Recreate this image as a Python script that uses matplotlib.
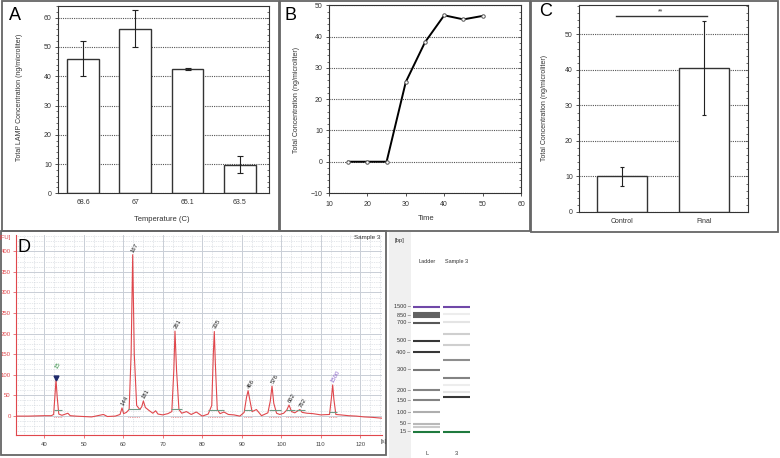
import matplotlib
matplotlib.use('Agg')
import matplotlib.pyplot as plt
from matplotlib.patches import Rectangle
from matplotlib.ticker import MultipleLocator

plt.rcParams['font.family'] = ['Liberation Sans', 'DejaVu Sans']

# --- data ---
# A: LAMP product vs temperature
temps = ['68.6', '67', '65.1', '63.5']
temp_conc = [46.0, 56.3, 42.6, 9.8]
temp_err = [6.0, 6.2, 0.3, 2.8]

# B: time course
time_min = [15, 20, 25, 30, 35, 40, 45, 50]
time_conc = [0, 0, 0, 25.5, 38.2, 46.8, 45.5, 46.6]

# C: control vs final
groups = ['Control', 'Final']
group_conc = [10.1, 40.5]
group_err = [2.7, 13.25]
sig_level = 55.1

# D: electropherogram trace (seconds, FU)
trace_x = [32.8, 36, 40, 41.8, 42.4, 42.7, 43.0, 43.3, 43.7, 44.5, 46.0, 46.6,
           48, 50, 52, 55, 56, 58, 59.2, 59.7, 60.1,
           60.8, 61.5, 62.0, 62.4, 62.8, 63.4, 64.2, 64.7, 65.1, 65.6, 66.5, 67.5, 68.2, 68.8,
           70, 71.3, 72.3, 72.8, 73.1, 73.5, 74.1, 74.8, 76, 77.2, 78.5, 80,
           81.5, 82.4, 82.8, 83.05, 83.3, 83.8, 84.5, 85.5, 86.6, 88, 89.5,
           90.6, 91.2, 91.6, 92.0, 92.6, 93.7, 95.0, 96.6,
           97.2, 97.65, 98.1, 98.8, 99.6, 100.6,
           101.4, 101.95, 102.6, 103.4, 104.2, 104.7, 105.3, 106.5, 108, 110,
           112.2, 112.7, 113.0, 113.3, 113.8, 115, 117, 119, 121, 123, 125.4]
trace_y = [-1, -1, 0, 0, 3, 45, 88, 45, 4, 1, 6, 0,
           -1, -2, -3, 3, -2, -1, 3, 19, 5,
           8, 15, 150, 392, 150, 25, 15, 22, 36, 20, 13, 6, 12, 4,
           2, 5, 10, 110, 206, 110, 15, 6, 10, 3, 9, -1,
           4, 25, 150, 205, 130, 15, 5, 9, 3, 2, -1,
           8, 45, 61, 40, 10, 15, 0, 7,
           35, 72, 30, 6, 3, 6,
           14, 26, 10, 7, 12, 15, 8, 6, 5, 2,
           3, 45, 75, 40, 3, 2, 0, -1, -3, -4, -6]

peak_x = [43.0, 59.7, 62.4, 65.1, 73.1, 83.05, 91.6, 97.65, 101.95, 104.7, 113.0]
peak_y = [88, 19, 392, 36, 206, 205, 61, 72, 26, 15, 75]
peak_bp = ['15', '144', '167', '181', '261', '335', '466', '576', '662', '762', '1500']

# integration baselines (start, end, level)
base_start = [42.4, 61.2, 72.0, 81.5, 90.5, 96.9, 101.3, 103.6, 112.1]
base_end = [44.5, 64.3, 75.0, 85.5, 92.6, 99.9, 103.4, 106.1, 114.1]
base_level = [14, 17, 17, 15, 15, 15, 14, 13, 10]

# gel image: migration (0 top .. 100 bottom) and band darkness
ladder_mig = [33.1, 36.1, 36.8, 37.6, 40.3, 48.2, 53.2, 61.0, 70.1, 74.5, 79.7, 84.8, 86.3, 88.4]
ladder_dark = [0, 0.7, 0.7, 0.7, 0.75, 0.9, 0.9, 0.6, 0.55, 0.55, 0.35, 0.3, 0.22, 0]
sample_mig = [33.1, 36.5, 39.8, 45.2, 50.1, 56.8, 64.6, 67.7, 70.7, 73.0, 88.4]
sample_dark = [0, 0.06, 0.1, 0.2, 0.2, 0.5, 0.55, 0.06, 0.1, 0.9, 0]
size_labels = ['1500', '850', '700', '500', '400', '300', '200', '150', '100', '50', '15']
size_mig = [33.1, 37.1, 40.3, 48.2, 53.2, 61.0, 70.1, 74.5, 79.7, 84.8, 88.4]

W, H = 780, 458
fig = plt.figure(figsize=(W / 100, H / 100), dpi=100)


def box(x0, y0, x1, y1):
    return [x0 / W, 1 - y1 / H, (x1 - x0) / W, (y1 - y0) / H]


def frame(x0, y0, x1, y1):
    fig.add_artist(Rectangle((x0 / W, 1 - y1 / H), (x1 - x0) / W, (y1 - y0) / H,
                             transform=fig.transFigure, fill=False, ec='#666666', lw=1.3))


def ftext(x, y, s, **kw):
    fig.text(x / W, 1 - y / H, s, **kw)


def style(ax, minor):
    for sp in ax.spines.values():
        sp.set_color('#333333')
        sp.set_linewidth(0.8)
    ax.tick_params(labelsize=5, colors='#333333', length=2.5, width=0.6, pad=2)
    ax.tick_params(axis='y', which='minor', length=1.3, width=0.5, colors='#333333')
    ax.yaxis.set_minor_locator(MultipleLocator(minor))
    ax.grid(axis='y', ls=(0, (1, 1)), color='#555555', lw=0.8)
    ax.set_axisbelow(True)
    sec = ax.secondary_yaxis('right')
    sec.yaxis.set_minor_locator(MultipleLocator(minor))
    sec.tick_params(which='both', direction='in', labelright=False, colors='#333333', width=0.5)
    sec.tick_params(which='major', length=2.5)
    sec.tick_params(which='minor', length=1.3)
    sec.spines['right'].set_visible(False)


# ---- A ----
axA = fig.add_axes(box(58, 6, 269, 193.3))
axA.bar(range(len(temps)), temp_conc, width=0.61, color='white', edgecolor='#333333', lw=1,
        yerr=temp_err, capsize=2, error_kw=dict(elinewidth=0.8, capthick=0.8, ecolor='#222222'))
axA.set_xlim(-0.48, 3.56)
axA.set_ylim(0, 64)
axA.set_yticks(range(0, 61, 10))
axA.set_xticks(range(len(temps)))
axA.set_xticklabels(temps)
style(axA, 2)
axA.tick_params(axis='x', pad=4, length=0)
ftext(20, 97, 'Total LAMP Concentration (ng/microliter)', rotation=90, fontsize=5,
      color='#333333', ha='center', va='center')
ftext(162, 219, 'Temperature (C)', fontsize=5.5, color='#333333', ha='center', va='center')

# ---- B ----
axB = fig.add_axes(box(329, 5.3, 521, 193))
axB.plot(time_min, time_conc, color='black', lw=1.4, marker='o', ms=2.5,
         mfc='white', mec='#555555', mew=0.7)
axB.set_xlim(10, 60)
axB.set_ylim(-10, 50)
axB.set_yticks(range(-10, 51, 10))
axB.set_xticks(range(10, 61, 10))
style(axB, 2)
axB.tick_params(axis='x', pad=3)
ftext(297, 100, 'Total Concentration (ng/microliter)', rotation=90, fontsize=5,
      color='#333333', ha='center', va='center')
ftext(426, 218, 'Time', fontsize=5.5, color='#333333', ha='center', va='center')

# ---- C ----
axC = fig.add_axes(box(579, 5.3, 748, 212))
axC.bar(range(len(groups)), group_conc, width=0.61, color='white', edgecolor='#333333', lw=1,
        yerr=group_err, capsize=1.5, error_kw=dict(elinewidth=0.8, capthick=0.8, ecolor='#222222'))
axC.set_xlim(-0.52, 1.54)
axC.set_ylim(0, 58.2)
axC.set_yticks(range(0, 51, 10))
axC.set_xticks(range(len(groups)))
axC.set_xticklabels(groups)
style(axC, 2)
axC.tick_params(axis='x', pad=4, length=0)
axC.plot([-0.07, 1.04], [sig_level, sig_level], color='#333333', lw=1)
axC.text(0.48, sig_level + 0.3, '**', fontsize=5, ha='center', va='bottom', color='#333333')
ftext(545, 108, 'Total Concentration (ng/microliter)', rotation=90, fontsize=5,
      color='#333333', ha='center', va='center')

# ---- D ----
red = '#e0474c'
grid_c = '#c9ced6'
axD = fig.add_axes(box(15.7, 235, 381.7, 435))
axD.plot(trace_x, trace_y, color=red, lw=0.8, zorder=3)
axD.hlines(base_level, base_start, base_end, colors='#6f9a84', lw=0.8, zorder=4)
axD.hlines([-4] * len(base_start), base_start, base_end, colors=red, lw=0.5,
           linestyles=(0, (1, 1.5)), zorder=2)
axD.plot(peak_x[0], peak_y[0] + 4, marker='v', color='#1f2a6b', ms=3.5, zorder=5)
for i, (px, py, lab) in enumerate(zip(peak_x, peak_y, peak_bp)):
    c = '#2e8b3e' if lab == '15' else ('#8a63c9' if lab == '1500' else '#222222')
    off = 8 if i == 0 else 2
    axD.annotate(lab, (px, py), xytext=(0, off), textcoords='offset points', rotation=60,
                 rotation_mode='anchor', ha='left', va='center', fontsize=4.3, color=c)
axD.set_xlim(32.8, 125.4)
axD.set_ylim(-47, 440)
axD.set_xticks(range(40, 121, 10))
axD.set_yticks(range(0, 401, 50))
axD.xaxis.set_minor_locator(MultipleLocator(2.5))
axD.yaxis.set_minor_locator(MultipleLocator(12.5))
axD.grid(which='major', color=grid_c, lw=0.7)
axD.grid(which='minor', color=grid_c, lw=0.5, ls=(0, (1, 1.5)))
axD.set_axisbelow(True)
for s in ['top', 'right']:
    axD.spines[s].set_visible(False)
axD.spines['left'].set_color(red)
axD.spines['bottom'].set_color(red)
axD.spines['left'].set_linewidth(0.8)
axD.spines['bottom'].set_linewidth(0.8)
axD.tick_params(axis='y', labelsize=4.3, colors=red, labelcolor=red, length=2, width=0.5, pad=1.5)
axD.tick_params(axis='x', labelsize=4.3, colors=red, labelcolor='#444444', length=2, width=0.5, pad=3)
axD.tick_params(which='minor', length=0)
ftext(5, 238, '[FU]', fontsize=4.3, color=red, ha='center', va='center')
ftext(384, 441, '[s]', fontsize=4.3, color='#444444', ha='center', va='center')
ftext(380, 238, 'Sample 3', fontsize=4.5, color='#333333', ha='right', va='center')

# ---- gel ----
axG = fig.add_axes(box(380, 231.7, 480, 458))
axG.set_xlim(0, 100)
axG.set_ylim(100, 0)
axG.axis('off')
axG.add_patch(Rectangle((9.3, 0), 21.4, 100, color='#f0f0f0', lw=0))
for lane_x0, migs, darks in [(33.3, ladder_mig, ladder_dark), (63.3, sample_mig, sample_dark)]:
    for m, d in zip(migs, darks):
        if m == 33.1:
            c = '#7048a8'
        elif m == 88.4:
            c = '#1f7a3e'
        else:
            g = 0.98 - 0.85 * d
            c = (g, g, g)
        axG.hlines(m, lane_x0, lane_x0 + 26.7, colors=[c], lw=1.5)
for lab, m in zip(size_labels, size_mig):
    axG.text(30.5, m, lab + ' \u2013', fontsize=4, color='#333333', ha='right', va='center')
axG.text(20, 3.7, '[bp]', fontsize=4.3, color='#333333', ha='center', va='center')
axG.text(46.7, 13.3, 'Ladder', fontsize=4, color='#333333', ha='center', va='center')
axG.text(76.7, 13.3, 'Sample 3', fontsize=4, color='#333333', ha='center', va='center')
axG.text(46.7, 97.8, 'L', fontsize=4, color='#333333', ha='center', va='center')
axG.text(76.7, 97.8, '3', fontsize=4, color='#333333', ha='center', va='center')

# ---- panel frames and letters ----
frame(2, 1, 279, 231)
frame(280, 1, 530, 231)
frame(531, 1, 778, 232)
frame(1, 231, 386, 455)
ftext(15, 16, 'A', fontsize=13, ha='center', va='center')
ftext(290.5, 15.7, 'B', fontsize=13, ha='center', va='center')
ftext(546, 12, 'C', fontsize=13, ha='center', va='center')
ftext(24, 247, 'D', fontsize=13, ha='center', va='center')

fig.savefig('out.png', dpi=100)
